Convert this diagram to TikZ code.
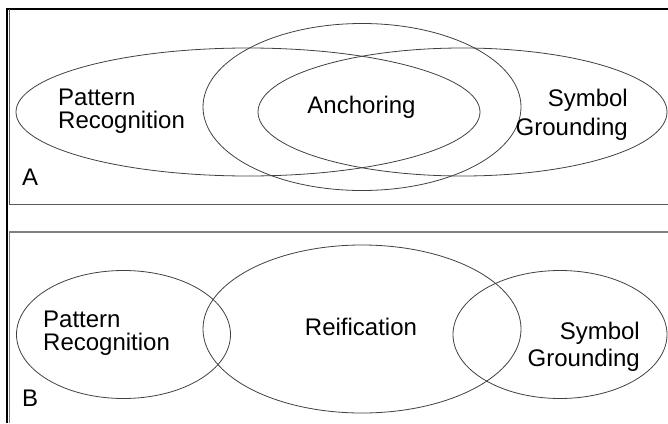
\documentclass[tikz,border=0pt]{standalone}
\usepackage{fontspec}
\setmainfont{Liberation Sans}
\usetikzlibrary{shapes.geometric}
\begin{document}
\begin{tikzpicture}[x=1pt,y=-1pt,
  venn/.style={draw=black!75, line width=0.8pt, ellipse, inner sep=0pt, minimum width=#1},
  lbl/.style={inner sep=0pt, font=\fontsize{24}{28}\selectfont, text=black},
  frameline/.style={draw=black, line width=2.4pt},
  panelline/.style={draw=black!65, line width=1pt}]
\useasboundingbox (0,0) rectangle (668,423);
% outer frame
\coordinate (fbl) at (7,423);
\coordinate (ftl) at (7,8.8);
\coordinate (ftr) at (668,8.8);
\draw[frameline] (fbl) -- (ftl) -- (ftr);
% panel A box
\coordinate (atl) at (9.3,9);
\coordinate (abl) at (9.3,204);
\coordinate (abr) at (668,204);
\draw[panelline] (atl) -- (abl) -- (abr);
% panel B box
\coordinate (btr) at (668,232);
\coordinate (btl) at (9.3,232);
\coordinate (bbl) at (9.3,423);
\draw[panelline, draw=black!50, line width=1.3pt] (btr) -- (btl) -- (bbl);
% panel A ellipses
\node[venn=464pt, minimum height=128pt] (prA) at (248,112) {};
\node[venn=409pt, minimum height=128pt] (sgA) at (462.5,112) {};
\node[venn=318pt, minimum height=167pt] (anA) at (362,107) {};
% panel A labels
\node[lbl, anchor=base west] (prA1) at (58,105) {Pattern};
\node[lbl, anchor=base west] (prA2) at (58,128) {Recognition};
\node[lbl, anchor=base] (anAt) at (361.5,113) {Anchoring};
\node[lbl, anchor=base east] (sgA1) at (628,106) {Symbol};
\node[lbl, anchor=base east] (sgA2) at (628,135) {Grounding};
\node[lbl, anchor=base west] (labA) at (22,185) {A};
% panel B ellipses
\node[venn=214pt, minimum height=128pt] (prB) at (123.5,334.5) {};
\node[venn=318pt, minimum height=168pt] (reB) at (362,329) {};
\node[venn=214pt, minimum height=128pt] (sgB) at (560,334.5) {};
% panel B labels
\node[lbl, anchor=base west] (prB1) at (43,327) {Pattern};
\node[lbl, anchor=base west] (prB2) at (43,350) {Recognition};
\node[lbl, anchor=base] (reBt) at (361,335) {Reification};
\node[lbl, anchor=base east] (sgB1) at (640,339) {Symbol};
\node[lbl, anchor=base east] (sgB2) at (640,366) {Grounding};
\node[lbl, anchor=base west] (labB) at (22,406) {B};
\end{tikzpicture}
\end{document}
